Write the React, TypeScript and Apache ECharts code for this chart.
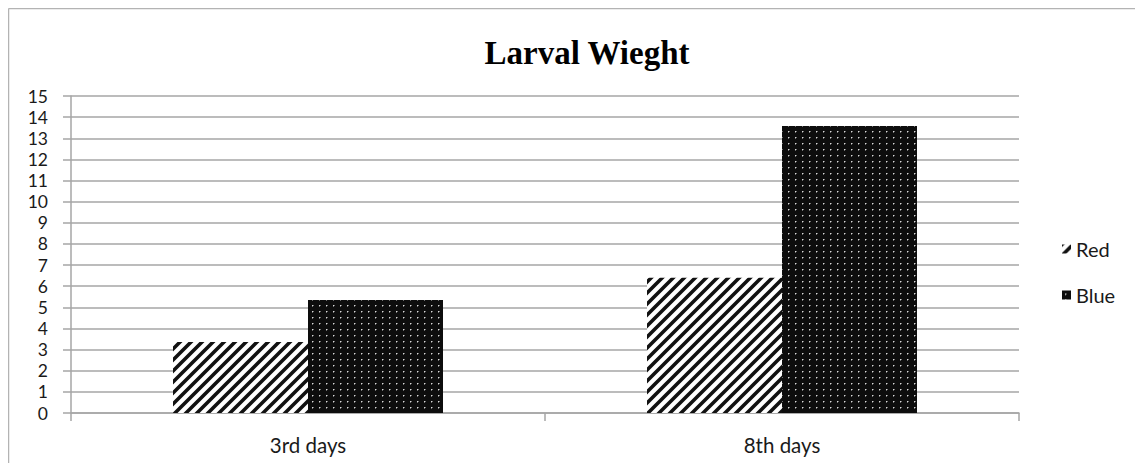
import React, { useEffect, useRef } from "react";
import * as echarts from "echarts";

const categories = ["3rd days", "8th days"];
const seriesNames = ["Red", "Blue"];
const redValues = [3.36, 6.4];
const blueValues = [5.35, 13.58];
const yTicks = [0, 15, 1];

function stripeTile(): HTMLCanvasElement {
  const s = 11;
  const c = document.createElement("canvas");
  c.width = s;
  c.height = s;
  const ctx = c.getContext("2d")!;
  ctx.fillStyle = "#ffffff";
  ctx.fillRect(0, 0, s, s);
  ctx.strokeStyle = "#111111";
  ctx.lineWidth = 3.6;
  ctx.beginPath();
  ctx.moveTo(-2, s + 2);
  ctx.lineTo(s + 2, -2);
  ctx.moveTo(-3, 3);
  ctx.lineTo(3, -3);
  ctx.moveTo(s - 3, s + 3);
  ctx.lineTo(s + 3, s - 3);
  ctx.stroke();
  return c;
}

function dotTile(): HTMLCanvasElement {
  const w = 7;
  const h = 6;
  const c = document.createElement("canvas");
  c.width = w;
  c.height = h;
  const ctx = c.getContext("2d")!;
  ctx.fillStyle = "#0d0d0d";
  ctx.fillRect(0, 0, w, h);
  ctx.fillStyle = "#d8d8d8";
  ctx.fillRect(3, 3, 1, 1);
  ctx.fillStyle = "#707070";
  ctx.fillRect(4, 3, 1, 1);
  ctx.fillRect(3, 4, 1, 1);
  return c;
}

export default function App() {
  const ref = useRef<HTMLDivElement>(null);
  useEffect(() => {
    if (!ref.current) return;
    const chart = echarts.init(ref.current, undefined, { renderer: "svg" });
    const stripes = stripeTile();
    const dots = dotTile();
    const redFill: any = { image: stripes.toDataURL(), repeat: "repeat", imageWidth: 11, imageHeight: 11 };
    const blueFill: any = { image: dots.toDataURL(), repeat: "repeat", imageWidth: 7, imageHeight: 6 };
    const font = "Lato, 'Open Sans', sans-serif";
    chart.setOption({
      animation: false,
      backgroundColor: "#ffffff",
      title: {
        text: "Larval Wieght",
        left: 574,
        top: 23,
        textAlign: "center",
        textStyle: {
          fontFamily: "'Liberation Serif', 'DejaVu Serif', serif",
          fontWeight: "bold",
          fontSize: 33,
          color: "#000000",
        },
      },
      graphic: [
        { type: "line", shape: { x1: 0.5, y1: 0.5, x2: 1127, y2: 0.5 }, style: { stroke: "#b3b3b3", lineWidth: 1.5 } },
        { type: "line", shape: { x1: 0.5, y1: 0.5, x2: 0.5, y2: 455 }, style: { stroke: "#b3b3b3", lineWidth: 1.5 } },
      ],
      legend: {
        orient: "vertical",
        left: 1049,
        top: 224,
        itemWidth: 9,
        itemHeight: 9,
        itemGap: 22,
        icon: "rect",
        data: seriesNames,
        textStyle: { fontFamily: font, fontSize: 20, color: "#1a1a1a", lineHeight: 24 },
      },
      grid: { left: 63, right: 116, top: 88, bottom: 50, containLabel: false },
      xAxis: {
        type: "category",
        data: categories,
        axisLine: { lineStyle: { color: "#a6a6a6", width: 1.5 } },
        axisTick: { show: true, length: 8, lineStyle: { color: "#a6a6a6", width: 1.5 } },
        axisLabel: { fontFamily: font, fontSize: 20.5, color: "#1a1a1a", margin: 21 },
      },
      yAxis: {
        type: "value",
        min: yTicks[0],
        max: yTicks[1],
        interval: yTicks[2],
        axisLine: { show: true, lineStyle: { color: "#a6a6a6", width: 1.5 } },
        axisTick: { show: true, length: 8, lineStyle: { color: "#a6a6a6", width: 1.5 } },
        splitLine: { show: true, lineStyle: { color: "#a6a6a6", width: 1.5 } },
        axisLabel: { fontFamily: font, fontSize: 17.5, lineHeight: 18, color: "#1a1a1a", margin: 23 },
      },
      series: [
        {
          name: seriesNames[0],
          type: "bar",
          data: redValues,
          barWidth: 135,
          barGap: "0%",
          itemStyle: { color: redFill },
        },
        {
          name: seriesNames[1],
          type: "bar",
          data: blueValues,
          barWidth: 135,
          barGap: "0%",
          itemStyle: { color: blueFill },
        },
      ],
    });
    return () => chart.dispose();
  }, []);
  return <div ref={ref} style={{ width: 1127, height: 455 }} />;
}
